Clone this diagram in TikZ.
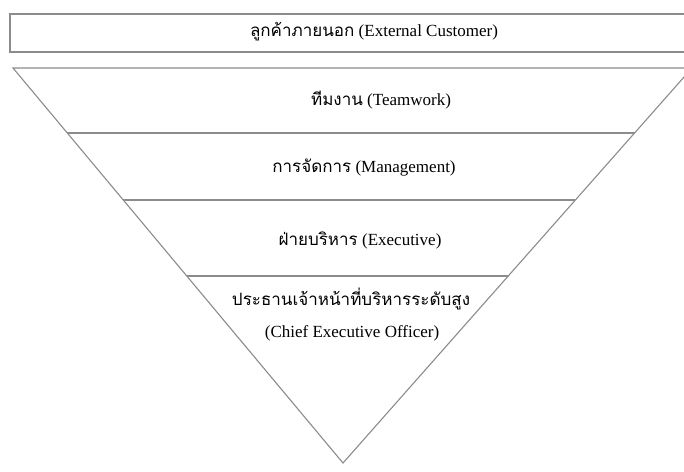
\documentclass[tikz,border=0pt]{standalone}
\usepackage{fontspec}
\usetikzlibrary{calc}
\setmainfont{Liberation Serif}
\newfontfamily\thaifont[Script=Thai]{Loma}
\tikzset{
	layer/.style={draw=black!45, line width=1.1pt},
	label/.style={inner sep=0pt, font=\fontsize{17}{20}\selectfont},
}
\newcommand{\thai}[1]{{\thaifont #1}}
\begin{document}
\begin{tikzpicture}[x=1pt, y=-1pt]
	\clip (0,0) rectangle (684,471);
	\fill[white] (0,0) rectangle (684,471);

	% customer box on top
	\draw[layer] (10,14) rectangle (700,52);
	\node[label] (customer) at (374,32) {\thai{ลูกค้าภายนอก} (External Customer)};

	% inverted pyramid
	\coordinate (tl) at (13,68);
	\coordinate (tr) at (692,68);
	\coordinate (apex) at (343,463);
	\draw[layer] (tl) -- (tr) -- (apex) -- cycle;

	% layer borders
	\foreach \y in {133,200,276}
		\draw[layer] ($(tl)!{(\y-68)/395}!(apex)$) -- ($(tr)!{(\y-68)/395}!(apex)$);

	% labels
	\node[label] (team) at (381,100) {\thai{ทีมงาน} (Teamwork)};
	\node[label] (mgmt) at (364,168) {\thai{การจัดการ} (Management)};
	\node[label] (exec) at (360,240) {\thai{ฝ่ายบริหาร} (Executive)};
	\node[label] (ceo) at (351,299) {\thai{ประธานเจ้าหน้าที่บริหารระดับสูง}};
	\node[label] (ceoen) at (352,333) {(Chief Executive Officer)};
\end{tikzpicture}
\end{document}
